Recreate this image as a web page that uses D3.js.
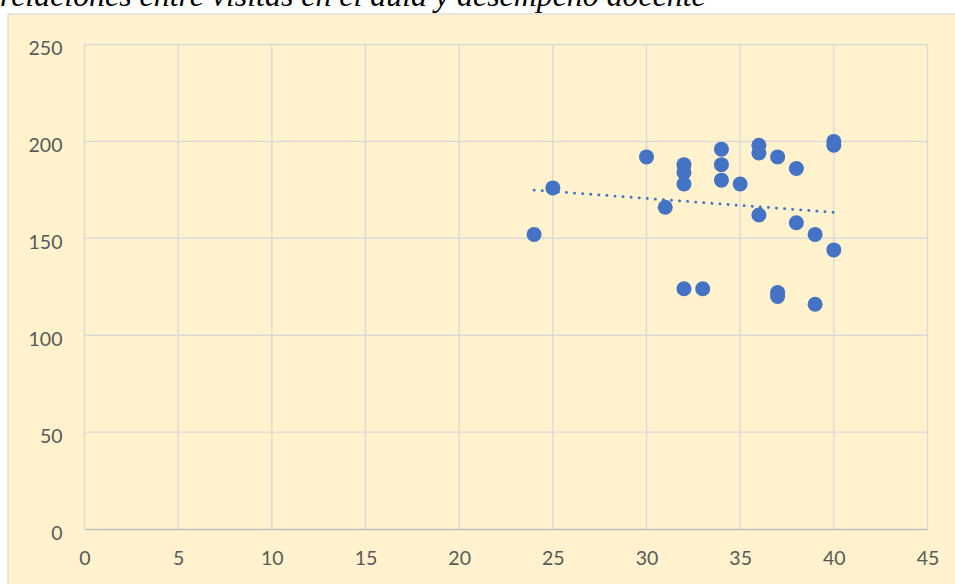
<!DOCTYPE html>
<html>
<head>
<meta charset="utf-8">
<script src="https://cdn.jsdelivr.net/npm/d3@7"></script>
<style>
  html, body { margin: 0; padding: 0; background: #ffffff; }
  svg { display: block; }
</style>
</head>
<body>
<svg id="chart" width="955" height="584"></svg>
<script>
// ---- data ----
const titleText = "relaciones entre visitas en el aula y desempeño docente";
const visitas   = [24, 25, 30, 31, 32, 32, 32, 32, 33, 34, 34, 34, 35, 36, 36, 36, 37, 37, 37, 38, 38, 39, 39, 40, 40, 40];
const desempeno = [152, 176, 192, 166, 188, 184, 178, 124, 124, 196, 188, 180, 178, 198, 194, 162, 192, 122, 120, 186, 158, 152, 116, 200, 198, 144];
const xTicks = [0, 5, 10, 15, 20, 25, 30, 35, 40, 45];
const yTicks = [0, 50, 100, 150, 200, 250];
// linear trendline (as drawn in the reference): endpoints
const trendX = [24, 40];
const trendY = [174.9, 163.4];

// ---- layout ----
const W = 955, H = 584;
const plot = { left: 84.5, right: 927.5, top: 44.5, bottom: 529 };
const panel = { x: 8, y: 14 };
const blue = "#4472C4";
const grid = "#D9D9D9";
const txt = "#595959";

const svg = d3.select("#chart");

// panel background
svg.append("rect")
  .attr("x", panel.x).attr("y", panel.y)
  .attr("width", W - panel.x + 2).attr("height", H - panel.y + 2)
  .attr("fill", "#FFF2CC")
  .attr("stroke", grid).attr("stroke-width", 1.2);

// title (cut off at top)
const title = svg.append("text")
  .attr("x", 0).attr("y", 6)
  .attr("font-family", "'Liberation Serif', 'Times New Roman', serif")
  .attr("font-style", "italic")
  .attr("font-size", 20)
  .attr("fill", "#000")
  .text(titleText);
const tw = title.node().getComputedTextLength();
title.attr("font-size", 20 * 706 / tw);

const x = d3.scaleLinear().domain([0, 45]).range([plot.left, plot.right]);
const y = d3.scaleLinear().domain([0, 250]).range([plot.bottom, plot.top]);

// gridlines
const g = svg.append("g");
g.selectAll("line.vg").data(xTicks).join("line")
  .attr("class", "vg")
  .attr("x1", d => x(d)).attr("x2", d => x(d))
  .attr("y1", plot.top).attr("y2", plot.bottom)
  .attr("stroke", grid).attr("stroke-width", 1.4);
g.selectAll("line.hg").data(yTicks.filter(d => d > 0)).join("line")
  .attr("class", "hg")
  .attr("x1", plot.left).attr("x2", plot.right)
  .attr("y1", d => y(d)).attr("y2", d => y(d))
  .attr("stroke", grid).attr("stroke-width", 1.4);

// x axis (bottom)
const xAxis = d3.axisBottom(x).tickValues(xTicks).tickSize(0).tickPadding(22).tickFormat(d3.format("d"));
const xa = svg.append("g").attr("transform", `translate(0,${plot.bottom})`).call(xAxis);
xa.select(".domain").attr("stroke", "#BFBFBF").attr("stroke-width", 1.6);
xa.selectAll("text")
  .attr("font-family", "Lato, 'Open Sans', sans-serif")
  .attr("font-size", 19.5)
  .attr("fill", txt);

// y axis (labels only)
const yAxis = d3.axisLeft(y).tickValues(yTicks).tickSize(0).tickPadding(22).tickFormat(d3.format("d"));
const ya = svg.append("g").attr("transform", `translate(${plot.left},0)`).call(yAxis);
ya.select(".domain").remove();
ya.selectAll("text")
  .attr("font-family", "Lato, 'Open Sans', sans-serif")
  .attr("font-size", 19.5)
  .attr("fill", txt)
  .attr("dy", "0.52em");

// trendline
const trend = trendX.map((d, i) => [d, trendY[i]]);
svg.append("path")
  .datum(trend)
  .attr("d", d3.line().x(d => x(d[0])).y(d => y(d[1])))
  .attr("fill", "none")
  .attr("stroke", blue)
  .attr("stroke-width", 2.8)
  .attr("stroke-linecap", "round")
  .attr("stroke-dasharray", "0.2 7.9");

// points
const pts = visitas.map((d, i) => ({ x: d, y: desempeno[i] }));
svg.append("g").selectAll("circle").data(pts).join("circle")
  .attr("cx", d => x(d.x))
  .attr("cy", d => y(d.y))
  .attr("r", 7.5)
  .attr("fill", blue);
</script>
</body>
</html>
